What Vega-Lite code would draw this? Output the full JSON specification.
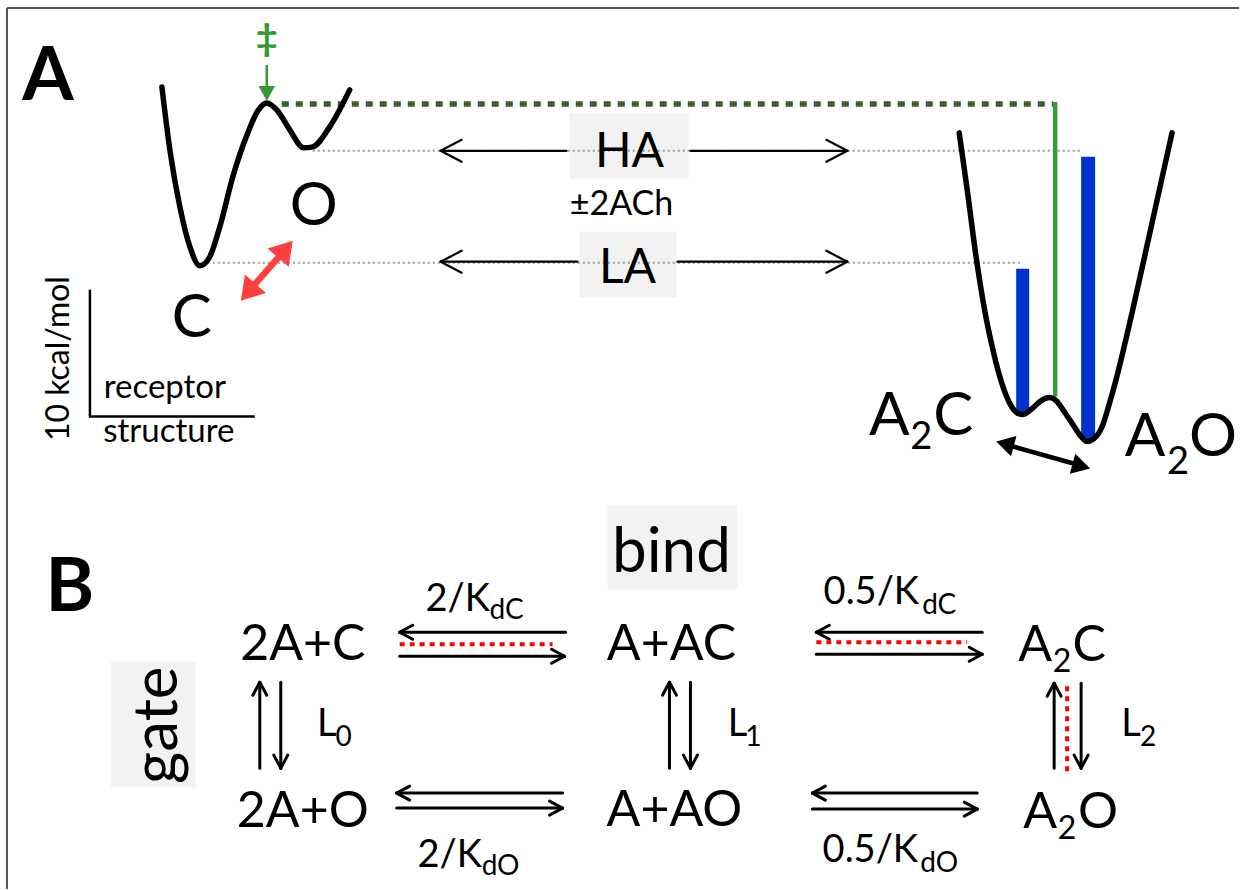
{
  "$schema": "https://vega.github.io/schema/vega-lite/v6.json",
  "width": 1240,
  "height": 890,
  "autosize": {"type": "fit", "contains": "padding"},
  "padding": 0,
  "background": "white",
  "config": {"view": {"stroke": null}},
  "datasets": {
    "curves": [
      {"id": "L", "o": 1, "x": 162, "y": 87}, {"id": "L", "o": 2, "x": 170, "y": 150}, {"id": "L", "o": 3, "x": 180, "y": 207},
      {"id": "L", "o": 4, "x": 190, "y": 247}, {"id": "L", "o": 5, "x": 200, "y": 266}, {"id": "L", "o": 6, "x": 210, "y": 257},
      {"id": "L", "o": 7, "x": 220, "y": 227}, {"id": "L", "o": 8, "x": 233, "y": 177}, {"id": "L", "o": 9, "x": 248, "y": 133},
      {"id": "L", "o": 10, "x": 258, "y": 111}, {"id": "L", "o": 11, "x": 267, "y": 103}, {"id": "L", "o": 12, "x": 277, "y": 110},
      {"id": "L", "o": 13, "x": 290, "y": 130}, {"id": "L", "o": 14, "x": 304, "y": 148}, {"id": "L", "o": 15, "x": 313, "y": 147},
      {"id": "L", "o": 16, "x": 330, "y": 127}, {"id": "L", "o": 17, "x": 350, "y": 90},
      {"id": "R", "o": 1, "x": 960, "y": 133}, {"id": "R", "o": 2, "x": 968, "y": 190}, {"id": "R", "o": 3, "x": 977, "y": 258},
      {"id": "R", "o": 4, "x": 985, "y": 308}, {"id": "R", "o": 5, "x": 993, "y": 347}, {"id": "R", "o": 6, "x": 1000, "y": 375},
      {"id": "R", "o": 7, "x": 1007, "y": 396}, {"id": "R", "o": 8, "x": 1013, "y": 408}, {"id": "R", "o": 9, "x": 1023, "y": 415},
      {"id": "R", "o": 10, "x": 1033, "y": 409}, {"id": "R", "o": 11, "x": 1042, "y": 401}, {"id": "R", "o": 12, "x": 1050, "y": 398},
      {"id": "R", "o": 13, "x": 1057, "y": 401}, {"id": "R", "o": 14, "x": 1065, "y": 412}, {"id": "R", "o": 15, "x": 1075, "y": 427},
      {"id": "R", "o": 16, "x": 1082, "y": 437}, {"id": "R", "o": 17, "x": 1088, "y": 442}, {"id": "R", "o": 18, "x": 1095, "y": 439},
      {"id": "R", "o": 19, "x": 1103, "y": 427}, {"id": "R", "o": 20, "x": 1110, "y": 405}, {"id": "R", "o": 21, "x": 1117, "y": 380},
      {"id": "R", "o": 22, "x": 1133, "y": 313}, {"id": "R", "o": 23, "x": 1153, "y": 223}, {"id": "R", "o": 24, "x": 1173, "y": 133}
    ],
    "segs": [
      {"g": "border", "x": 7, "y": 8, "x2": 1240, "y2": 8},
      {"g": "border", "x": 7, "y": 8, "x2": 7, "y2": 890},
      {"g": "scale", "x": 90, "y": 290, "x2": 90, "y2": 417},
      {"g": "scale", "x": 89, "y": 417, "x2": 255, "y2": 417},
      {"g": "grayDot", "x": 313, "y": 151, "x2": 1082, "y2": 151},
      {"g": "grayDot", "x": 213, "y": 263, "x2": 1023, "y2": 263},
      {"g": "greenDot", "x": 282, "y": 104, "x2": 1054, "y2": 104},
      {"g": "greenSolid", "x": 1056, "y": 102, "x2": 1056, "y2": 397},
      {"g": "greenShaft", "x": 267, "y": 65, "x2": 267, "y2": 90},
      {"g": "redShaft", "x": 246, "y": 295, "x2": 288, "y2": 247},
      {"g": "blackShaft", "x": 1003, "y": 444, "x2": 1085, "y2": 467},
      {"g": "arrowA", "x": 441, "y": 151, "x2": 567, "y2": 151},
      {"g": "arrowA", "x": 441, "y": 151, "x2": 462, "y2": 140},
      {"g": "arrowA", "x": 441, "y": 151, "x2": 462, "y2": 162},
      {"g": "arrowA", "x": 691, "y": 151, "x2": 848, "y2": 151},
      {"g": "arrowA", "x": 848, "y": 151, "x2": 827, "y2": 140},
      {"g": "arrowA", "x": 848, "y": 151, "x2": 827, "y2": 162},
      {"g": "arrowA", "x": 441, "y": 262, "x2": 578, "y2": 262},
      {"g": "arrowA", "x": 441, "y": 262, "x2": 462, "y2": 251},
      {"g": "arrowA", "x": 441, "y": 262, "x2": 462, "y2": 273},
      {"g": "arrowA", "x": 678, "y": 262, "x2": 848, "y2": 262},
      {"g": "arrowA", "x": 848, "y": 262, "x2": 827, "y2": 251},
      {"g": "arrowA", "x": 848, "y": 262, "x2": 827, "y2": 273},
      {"g": "arrowB", "x": 400, "y": 633, "x2": 566, "y2": 633},
      {"g": "arrowB", "x": 400, "y": 633, "x2": 413, "y2": 626},
      {"g": "arrowB", "x": 400, "y": 633, "x2": 413, "y2": 640},
      {"g": "arrowB", "x": 400, "y": 657, "x2": 565, "y2": 657},
      {"g": "arrowB", "x": 565, "y": 657, "x2": 552, "y2": 650},
      {"g": "arrowB", "x": 565, "y": 657, "x2": 552, "y2": 664},
      {"g": "arrowB", "x": 397, "y": 794, "x2": 563, "y2": 794},
      {"g": "arrowB", "x": 397, "y": 794, "x2": 410, "y2": 787},
      {"g": "arrowB", "x": 397, "y": 794, "x2": 410, "y2": 801},
      {"g": "arrowB", "x": 397, "y": 809, "x2": 563, "y2": 809},
      {"g": "arrowB", "x": 563, "y": 809, "x2": 550, "y2": 802},
      {"g": "arrowB", "x": 563, "y": 809, "x2": 550, "y2": 816},
      {"g": "arrowB", "x": 817, "y": 633, "x2": 983, "y2": 633},
      {"g": "arrowB", "x": 817, "y": 633, "x2": 830, "y2": 626},
      {"g": "arrowB", "x": 817, "y": 633, "x2": 830, "y2": 640},
      {"g": "arrowB", "x": 817, "y": 655, "x2": 983, "y2": 655},
      {"g": "arrowB", "x": 983, "y": 655, "x2": 970, "y2": 648},
      {"g": "arrowB", "x": 983, "y": 655, "x2": 970, "y2": 662},
      {"g": "arrowB", "x": 813, "y": 794, "x2": 978, "y2": 794},
      {"g": "arrowB", "x": 813, "y": 794, "x2": 826, "y2": 787},
      {"g": "arrowB", "x": 813, "y": 794, "x2": 826, "y2": 801},
      {"g": "arrowB", "x": 813, "y": 810, "x2": 978, "y2": 810},
      {"g": "arrowB", "x": 978, "y": 810, "x2": 965, "y2": 803},
      {"g": "arrowB", "x": 978, "y": 810, "x2": 965, "y2": 817},
      {"g": "arrowB", "x": 260, "y": 769, "x2": 260, "y2": 683},
      {"g": "arrowB", "x": 260, "y": 683, "x2": 253, "y2": 696},
      {"g": "arrowB", "x": 260, "y": 683, "x2": 267, "y2": 696},
      {"g": "arrowB", "x": 281, "y": 683, "x2": 281, "y2": 769},
      {"g": "arrowB", "x": 281, "y": 769, "x2": 274, "y2": 756},
      {"g": "arrowB", "x": 281, "y": 769, "x2": 288, "y2": 756},
      {"g": "arrowB", "x": 670, "y": 769, "x2": 670, "y2": 683},
      {"g": "arrowB", "x": 670, "y": 683, "x2": 663, "y2": 696},
      {"g": "arrowB", "x": 670, "y": 683, "x2": 677, "y2": 696},
      {"g": "arrowB", "x": 691, "y": 683, "x2": 691, "y2": 769},
      {"g": "arrowB", "x": 691, "y": 769, "x2": 684, "y2": 756},
      {"g": "arrowB", "x": 691, "y": 769, "x2": 698, "y2": 756},
      {"g": "arrowB", "x": 1055, "y": 769, "x2": 1055, "y2": 684},
      {"g": "arrowB", "x": 1055, "y": 684, "x2": 1048, "y2": 697},
      {"g": "arrowB", "x": 1055, "y": 684, "x2": 1062, "y2": 697},
      {"g": "arrowB", "x": 1082, "y": 684, "x2": 1082, "y2": 769},
      {"g": "arrowB", "x": 1082, "y": 769, "x2": 1075, "y2": 756},
      {"g": "arrowB", "x": 1082, "y": 769, "x2": 1089, "y2": 756},
      {"g": "redDot", "x": 400, "y": 645, "x2": 553, "y2": 645},
      {"g": "redDot", "x": 817, "y": 643, "x2": 968, "y2": 643},
      {"g": "redDot", "x": 1068, "y": 687, "x2": 1068, "y2": 772}
    ],
    "boxes": [
      {"g": "label", "x": 570, "x2": 689, "y": 113, "y2": 179},
      {"g": "label", "x": 580, "x2": 677, "y": 232, "y2": 298},
      {"g": "label", "x": 608, "x2": 738, "y": 505, "y2": 590},
      {"g": "label", "x": 111, "x2": 196, "y": 662, "y2": 788},
      {"g": "bar", "x": 1017, "x2": 1030, "y": 269, "y2": 413},
      {"g": "bar", "x": 1082, "x2": 1096, "y": 157, "y2": 440}
    ],
    "heads": [
      {"g": "red", "x": 293, "y": 241, "heading": 41},
      {"g": "red", "x": 241, "y": 301, "heading": 221},
      {"g": "black", "x": 1091, "y": 469, "heading": 105},
      {"g": "black", "x": 997, "y": 442, "heading": 285},
      {"g": "green", "x": 267, "y": 101, "heading": 180}
    ],
    "texts": [
      {"g": "letter", "x": 48, "y": 100, "t": "A"},
      {"g": "letter", "x": 70, "y": 612, "t": "B"},
      {"g": "dagger", "x": 267, "y": 51, "t": "‡"},
      {"g": "big", "x": 314, "y": 225, "t": "O"},
      {"g": "big", "x": 192, "y": 337, "t": "C"},
      {"g": "big", "x": 890, "y": 435, "t": "A"},
      {"g": "big", "x": 954, "y": 435, "t": "C"},
      {"g": "big", "x": 1146, "y": 457, "t": "A"},
      {"g": "big", "x": 1214, "y": 457, "t": "O"},
      {"g": "bigsub", "x": 922, "y": 450, "t": "2"},
      {"g": "bigsub", "x": 1179, "y": 475, "t": "2"},
      {"g": "boxlab", "x": 630, "y": 167, "t": "HA"},
      {"g": "boxlab", "x": 628, "y": 283, "t": "LA"},
      {"g": "ach", "x": 622, "y": 215, "t": "±2ACh"},
      {"g": "small", "x": 165, "y": 398, "t": "receptor"},
      {"g": "small", "x": 169, "y": 442, "t": "structure"},
      {"g": "smallrot", "x": 69, "y": 359, "t": "10 kcal/mol"},
      {"g": "bind", "x": 672, "y": 573, "t": "bind"},
      {"g": "gate", "x": 177, "y": 726, "t": "gate"},
      {"g": "lab", "x": 303, "y": 661, "t": "2A+C"},
      {"g": "lab", "x": 303, "y": 828, "t": "2A+O"},
      {"g": "lab", "x": 672, "y": 661, "t": "A+AC"},
      {"g": "lab", "x": 675, "y": 827, "t": "A+AO"},
      {"g": "lab", "x": 1036, "y": 662, "t": "A"},
      {"g": "lab", "x": 1090, "y": 662, "t": "C"},
      {"g": "lab", "x": 1041, "y": 829, "t": "A"},
      {"g": "lab", "x": 1099, "y": 829, "t": "O"},
      {"g": "labsub", "x": 1063, "y": 673, "t": "2"},
      {"g": "labsub", "x": 1068, "y": 840, "t": "2"},
      {"g": "rate", "x": 458, "y": 612, "t": "2/K"},
      {"g": "ratesub", "x": 507, "y": 620, "t": "dC"},
      {"g": "rate", "x": 450, "y": 868, "t": "2/K"},
      {"g": "ratesub", "x": 501, "y": 876, "t": "dO"},
      {"g": "rate", "x": 872, "y": 605, "t": "0.5/K"},
      {"g": "ratesub", "x": 940, "y": 615, "t": "dC"},
      {"g": "rate", "x": 871, "y": 863, "t": "0.5/K"},
      {"g": "ratesub", "x": 940, "y": 873, "t": "dO"},
      {"g": "rate", "x": 327, "y": 737, "t": "L"},
      {"g": "ratesub", "x": 344, "y": 747, "t": "0"},
      {"g": "rate", "x": 738, "y": 737, "t": "L"},
      {"g": "ratesub", "x": 754, "y": 747, "t": "1"},
      {"g": "rate", "x": 1132, "y": 737, "t": "L"},
      {"g": "ratesub", "x": 1149, "y": 747, "t": "2"}
    ]
  },
  "layer": [
    {
      "data": {"name": "boxes"},
      "transform": [{"filter": "datum.g === 'label'"}],
      "mark": {"type": "rect", "fill": "#f2f2f2", "stroke": "#fafafa", "strokeWidth": 1},
      "encoding": {
        "x": {"field": "x", "type": "quantitative", "scale": {"domain": [0, 1240], "nice": false, "zero": false}, "axis": null},
        "x2": {"field": "x2"},
        "y": {"field": "y", "type": "quantitative", "scale": {"domain": [0, 890], "nice": false, "zero": false, "reverse": true}, "axis": null},
        "y2": {"field": "y2"}
      }
    },
    {
      "data": {"name": "segs"},
      "transform": [{"filter": "datum.g === 'grayDot'"}],
      "mark": {"type": "rule", "color": "#9a9a9a", "strokeWidth": 2, "strokeDash": [2, 3]},
      "encoding": {
        "x": {"field": "x", "type": "quantitative", "axis": null},
        "x2": {"field": "x2"},
        "y": {"field": "y", "type": "quantitative", "axis": null},
        "y2": {"field": "y2"}
      }
    },
    {
      "data": {"name": "segs"},
      "transform": [{"filter": "datum.g === 'greenDot'"}],
      "mark": {"type": "rule", "color": "#3b5f28", "strokeWidth": 5.5, "strokeDash": [7, 7]},
      "encoding": {
        "x": {"field": "x", "type": "quantitative", "axis": null},
        "x2": {"field": "x2"},
        "y": {"field": "y", "type": "quantitative", "axis": null},
        "y2": {"field": "y2"}
      }
    },
    {
      "data": {"name": "segs"},
      "transform": [{"filter": "datum.g === 'greenSolid'"}],
      "mark": {"type": "rule", "color": "#3c9a3c", "strokeWidth": 4.5},
      "encoding": {
        "x": {"field": "x", "type": "quantitative", "axis": null},
        "x2": {"field": "x2"},
        "y": {"field": "y", "type": "quantitative", "axis": null},
        "y2": {"field": "y2"}
      }
    },
    {
      "data": {"name": "boxes"},
      "transform": [{"filter": "datum.g === 'bar'"}],
      "mark": {"type": "rect", "fill": "#0033cc"},
      "encoding": {
        "x": {"field": "x", "type": "quantitative", "axis": null},
        "x2": {"field": "x2"},
        "y": {"field": "y", "type": "quantitative", "axis": null},
        "y2": {"field": "y2"}
      }
    },
    {
      "data": {"name": "curves"},
      "mark": {"type": "line", "color": "black", "strokeWidth": 5.5, "interpolate": "monotone", "strokeCap": "round", "strokeJoin": "round"},
      "encoding": {
        "x": {"field": "x", "type": "quantitative", "axis": null},
        "y": {"field": "y", "type": "quantitative", "axis": null},
        "detail": {"field": "id"},
        "order": {"field": "o"}
      }
    },
    {
      "data": {"name": "segs"},
      "transform": [{"filter": "datum.g === 'border'"}],
      "mark": {"type": "rule", "color": "#555555", "strokeWidth": 2},
      "encoding": {
        "x": {"field": "x", "type": "quantitative", "axis": null},
        "x2": {"field": "x2"},
        "y": {"field": "y", "type": "quantitative", "axis": null},
        "y2": {"field": "y2"}
      }
    },
    {
      "data": {"name": "segs"},
      "transform": [{"filter": "datum.g === 'scale'"}],
      "mark": {"type": "rule", "color": "black", "strokeWidth": 2.5},
      "encoding": {
        "x": {"field": "x", "type": "quantitative", "axis": null},
        "x2": {"field": "x2"},
        "y": {"field": "y", "type": "quantitative", "axis": null},
        "y2": {"field": "y2"}
      }
    },
    {
      "data": {"name": "segs"},
      "transform": [{"filter": "datum.g === 'arrowA'"}],
      "mark": {"type": "rule", "color": "black", "strokeWidth": 2.2, "strokeCap": "round"},
      "encoding": {
        "x": {"field": "x", "type": "quantitative", "axis": null},
        "x2": {"field": "x2"},
        "y": {"field": "y", "type": "quantitative", "axis": null},
        "y2": {"field": "y2"}
      }
    },
    {
      "data": {"name": "segs"},
      "transform": [{"filter": "datum.g === 'arrowB'"}],
      "mark": {"type": "rule", "color": "black", "strokeWidth": 3, "strokeCap": "round"},
      "encoding": {
        "x": {"field": "x", "type": "quantitative", "axis": null},
        "x2": {"field": "x2"},
        "y": {"field": "y", "type": "quantitative", "axis": null},
        "y2": {"field": "y2"}
      }
    },
    {
      "data": {"name": "segs"},
      "transform": [{"filter": "datum.g === 'redDot'"}],
      "mark": {"type": "rule", "color": "#ff0000", "strokeWidth": 4, "strokeDash": [5, 5]},
      "encoding": {
        "x": {"field": "x", "type": "quantitative", "axis": null},
        "x2": {"field": "x2"},
        "y": {"field": "y", "type": "quantitative", "axis": null},
        "y2": {"field": "y2"}
      }
    },
    {
      "data": {"name": "segs"},
      "transform": [{"filter": "datum.g === 'redShaft'"}],
      "mark": {"type": "rule", "color": "#ff4040", "strokeWidth": 6.5},
      "encoding": {
        "x": {"field": "x", "type": "quantitative", "axis": null},
        "x2": {"field": "x2"},
        "y": {"field": "y", "type": "quantitative", "axis": null},
        "y2": {"field": "y2"}
      }
    },
    {
      "data": {"name": "segs"},
      "transform": [{"filter": "datum.g === 'blackShaft'"}],
      "mark": {"type": "rule", "color": "black", "strokeWidth": 4.5},
      "encoding": {
        "x": {"field": "x", "type": "quantitative", "axis": null},
        "x2": {"field": "x2"},
        "y": {"field": "y", "type": "quantitative", "axis": null},
        "y2": {"field": "y2"}
      }
    },
    {
      "data": {"name": "segs"},
      "transform": [{"filter": "datum.g === 'greenShaft'"}],
      "mark": {"type": "rule", "color": "#339933", "strokeWidth": 2.5},
      "encoding": {
        "x": {"field": "x", "type": "quantitative", "axis": null},
        "x2": {"field": "x2"},
        "y": {"field": "y", "type": "quantitative", "axis": null},
        "y2": {"field": "y2"}
      }
    },
    {
      "data": {"name": "heads"},
      "transform": [{"filter": "datum.g === 'red'"}],
      "mark": {"type": "point", "shape": "M0,0L1.25,2L-1.25,2Z", "filled": true, "fill": "#ff4040", "opacity": 1, "size": 500, "strokeWidth": 0},
      "encoding": {
        "x": {"field": "x", "type": "quantitative", "axis": null},
        "y": {"field": "y", "type": "quantitative", "axis": null},
        "angle": {"field": "heading", "type": "quantitative", "scale": null}
      }
    },
    {
      "data": {"name": "heads"},
      "transform": [{"filter": "datum.g === 'black'"}],
      "mark": {"type": "point", "shape": "M0,0L1.15,2L-1.15,2Z", "filled": true, "fill": "black", "opacity": 1, "size": 330, "strokeWidth": 0},
      "encoding": {
        "x": {"field": "x", "type": "quantitative", "axis": null},
        "y": {"field": "y", "type": "quantitative", "axis": null},
        "angle": {"field": "heading", "type": "quantitative", "scale": null}
      }
    },
    {
      "data": {"name": "heads"},
      "transform": [{"filter": "datum.g === 'green'"}],
      "mark": {"type": "point", "shape": "M0,0L1.1,2L-1.1,2Z", "filled": true, "fill": "#339933", "opacity": 1, "size": 225, "strokeWidth": 0},
      "encoding": {
        "x": {"field": "x", "type": "quantitative", "axis": null},
        "y": {"field": "y", "type": "quantitative", "axis": null},
        "angle": {"field": "heading", "type": "quantitative", "scale": null}
      }
    },
    {
      "data": {"name": "texts"},
      "transform": [{"filter": "datum.g === 'letter'"}],
      "mark": {"type": "text", "font": "Lato", "fontWeight": "bold", "fontSize": 74, "align": "center", "baseline": "alphabetic", "color": "black"},
      "encoding": {
        "x": {"field": "x", "type": "quantitative", "axis": null},
        "y": {"field": "y", "type": "quantitative", "axis": null},
        "text": {"field": "t"}
      }
    },
    {
      "data": {"name": "texts"},
      "transform": [{"filter": "datum.g === 'dagger'"}],
      "mark": {"type": "text", "font": "Lato", "fontWeight": "bold", "fontSize": 38, "align": "center", "baseline": "alphabetic", "color": "#339933"},
      "encoding": {
        "x": {"field": "x", "type": "quantitative", "axis": null},
        "y": {"field": "y", "type": "quantitative", "axis": null},
        "text": {"field": "t"}
      }
    },
    {
      "data": {"name": "texts"},
      "transform": [{"filter": "datum.g === 'big'"}],
      "mark": {"type": "text", "font": "Lato", "fontSize": 60, "align": "center", "baseline": "alphabetic", "color": "black"},
      "encoding": {
        "x": {"field": "x", "type": "quantitative", "axis": null},
        "y": {"field": "y", "type": "quantitative", "axis": null},
        "text": {"field": "t"}
      }
    },
    {
      "data": {"name": "texts"},
      "transform": [{"filter": "datum.g === 'bigsub'"}],
      "mark": {"type": "text", "font": "Lato", "fontSize": 38, "align": "center", "baseline": "alphabetic", "color": "black"},
      "encoding": {
        "x": {"field": "x", "type": "quantitative", "axis": null},
        "y": {"field": "y", "type": "quantitative", "axis": null},
        "text": {"field": "t"}
      }
    },
    {
      "data": {"name": "texts"},
      "transform": [{"filter": "datum.g === 'boxlab'"}],
      "mark": {"type": "text", "font": "Lato", "fontSize": 48, "align": "center", "baseline": "alphabetic", "color": "black"},
      "encoding": {
        "x": {"field": "x", "type": "quantitative", "axis": null},
        "y": {"field": "y", "type": "quantitative", "axis": null},
        "text": {"field": "t"}
      }
    },
    {
      "data": {"name": "texts"},
      "transform": [{"filter": "datum.g === 'ach'"}],
      "mark": {"type": "text", "font": "Lato", "fontSize": 34, "align": "center", "baseline": "alphabetic", "color": "black"},
      "encoding": {
        "x": {"field": "x", "type": "quantitative", "axis": null},
        "y": {"field": "y", "type": "quantitative", "axis": null},
        "text": {"field": "t"}
      }
    },
    {
      "data": {"name": "texts"},
      "transform": [{"filter": "datum.g === 'small'"}],
      "mark": {"type": "text", "font": "Lato", "fontSize": 33, "align": "center", "baseline": "alphabetic", "color": "black"},
      "encoding": {
        "x": {"field": "x", "type": "quantitative", "axis": null},
        "y": {"field": "y", "type": "quantitative", "axis": null},
        "text": {"field": "t"}
      }
    },
    {
      "data": {"name": "texts"},
      "transform": [{"filter": "datum.g === 'smallrot'"}],
      "mark": {"type": "text", "font": "Lato", "fontSize": 32, "align": "center", "baseline": "alphabetic", "angle": 270, "color": "black"},
      "encoding": {
        "x": {"field": "x", "type": "quantitative", "axis": null},
        "y": {"field": "y", "type": "quantitative", "axis": null},
        "text": {"field": "t"}
      }
    },
    {
      "data": {"name": "texts"},
      "transform": [{"filter": "datum.g === 'bind'"}],
      "mark": {"type": "text", "font": "Lato", "fontSize": 62, "align": "center", "baseline": "alphabetic", "color": "black"},
      "encoding": {
        "x": {"field": "x", "type": "quantitative", "axis": null},
        "y": {"field": "y", "type": "quantitative", "axis": null},
        "text": {"field": "t"}
      }
    },
    {
      "data": {"name": "texts"},
      "transform": [{"filter": "datum.g === 'gate'"}],
      "mark": {"type": "text", "font": "Lato", "fontSize": 62, "align": "center", "baseline": "alphabetic", "angle": 270, "color": "black"},
      "encoding": {
        "x": {"field": "x", "type": "quantitative", "axis": null},
        "y": {"field": "y", "type": "quantitative", "axis": null},
        "text": {"field": "t"}
      }
    },
    {
      "data": {"name": "texts"},
      "transform": [{"filter": "datum.g === 'lab'"}],
      "mark": {"type": "text", "font": "Lato", "fontSize": 50, "align": "center", "baseline": "alphabetic", "color": "black"},
      "encoding": {
        "x": {"field": "x", "type": "quantitative", "axis": null},
        "y": {"field": "y", "type": "quantitative", "axis": null},
        "text": {"field": "t"}
      }
    },
    {
      "data": {"name": "texts"},
      "transform": [{"filter": "datum.g === 'labsub'"}],
      "mark": {"type": "text", "font": "Lato", "fontSize": 32, "align": "center", "baseline": "alphabetic", "color": "black"},
      "encoding": {
        "x": {"field": "x", "type": "quantitative", "axis": null},
        "y": {"field": "y", "type": "quantitative", "axis": null},
        "text": {"field": "t"}
      }
    },
    {
      "data": {"name": "texts"},
      "transform": [{"filter": "datum.g === 'rate'"}],
      "mark": {"type": "text", "font": "Lato", "fontSize": 38, "align": "center", "baseline": "alphabetic", "color": "black"},
      "encoding": {
        "x": {"field": "x", "type": "quantitative", "axis": null},
        "y": {"field": "y", "type": "quantitative", "axis": null},
        "text": {"field": "t"}
      }
    },
    {
      "data": {"name": "texts"},
      "transform": [{"filter": "datum.g === 'ratesub'"}],
      "mark": {"type": "text", "font": "Lato", "fontSize": 28, "align": "center", "baseline": "alphabetic", "color": "black"},
      "encoding": {
        "x": {"field": "x", "type": "quantitative", "axis": null},
        "y": {"field": "y", "type": "quantitative", "axis": null},
        "text": {"field": "t"}
      }
    }
  ]
}
